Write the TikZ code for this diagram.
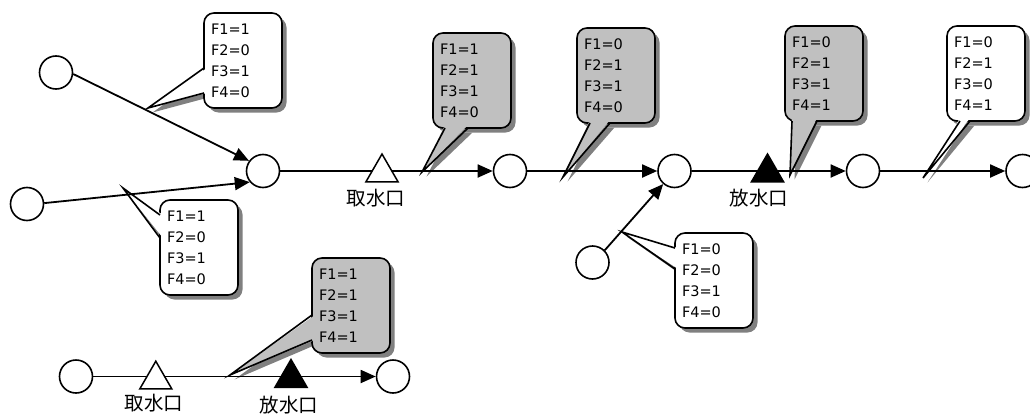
\documentclass[tikz,border=0pt]{standalone}
\usepackage{fontspec}
\setmainfont{DejaVu Sans}
\newfontfamily\jpfont{Noto Sans CJK JP}
\usetikzlibrary{arrows.meta,shapes.geometric,calc}
\pgfdeclarelayer{shadow}
\pgfsetlayers{shadow,main}
\definecolor{callgray}{RGB}{192,192,192}
\definecolor{shadowgray}{RGB}{128,128,128}
\newcommand\callout[8]{%
  \node[callbox, fill=#2] (#1) at #3 {#8};
  \coordinate (#1-tip) at #4;
  \coordinate (#1-a) at #5;
  \coordinate (#1-b) at #6;
  \begin{pgfonlayer}{shadow}
    \fill[shadowgray, rounded corners=10pt] ([shift={(4.5,4.5)}]#1.north west) rectangle ([shift={(4.5,4.5)}]#1.south east);
    \fill[shadowgray] ([shift={(4.5,4.5)}]#1-tip) -- ([shift={(4.5,4.5)}]#1-a) -- ([shift={(4.5,4.5)}]#1-b) -- cycle;
  \end{pgfonlayer}
  \fill[#2] (#1-tip) -- ([shift={#7}]#1-a) -- ([shift={#7}]#1-b) -- cycle;
  \draw[pointer] (#1-a) -- (#1-tip) -- (#1-b);
}
\begin{document}
\begin{tikzpicture}[x=1pt,y=-1pt,
  station/.style={circle, draw, line width=1.6pt, fill=white, minimum size=33pt, inner sep=0pt},
  flow/.style={line width=1.8pt, -{Triangle[length=15pt,width=13pt]}},
  intake/.style={regular polygon, regular polygon sides=3, draw, line width=1.5pt, fill=white, minimum size=37pt, inner sep=0pt},
  outlet/.style={intake, fill=black},
  facility/.style={font=\jpfont\fontsize{19.5}{20}\selectfont, inner sep=0pt},
  callbox/.style={draw, line width=1.6pt, rounded corners=10pt, anchor=north west, outer sep=0pt,
    text width=64pt, inner xsep=7pt, inner ysep=0pt, align=left,
    font=\fontsize{14.5}{20.9}\selectfont, minimum height=95pt},
  pointer/.style={line width=1.6pt},
]
\useasboundingbox (0,0) rectangle (1030,415);

% callouts
\callout{c1}{white}{(204,13)}{(148,108)}{(204,68)}{(204,93)}{(3,0)}{F1=1\\F2=0\\F3=1\\F4=0}
\callout{c2}{white}{(160,200)}{(123,188)}{(160,215)}{(160,238)}{(3,0)}{F1=1\\F2=0\\F3=1\\F4=0}
\callout{c3}{callgray}{(433,33)}{(422,172)}{(445,128)}{(468,128)}{(0,-3)}{F1=1\\F2=1\\F3=1\\F4=0}
\callout{c4}{callgray}{(577,28)}{(563,177)}{(590,123)}{(610,123)}{(0,-3)}{F1=0\\F2=1\\F3=1\\F4=0}
\callout{c5}{callgray}{(785,26)}{(790,175)}{(792,121)}{(817,121)}{(0,-3)}{F1=0\\F2=1\\F3=1\\F4=1}
\callout{c6}{white}{(947,26)}{(923,178)}{(960,121)}{(970,121)}{(0,-3)}{F1=0\\F2=1\\F3=0\\F4=1}
\callout{c7}{white}{(675,233)}{(622,232)}{(675,248)}{(675,269)}{(3,0)}{F1=0\\F2=0\\F3=1\\F4=0}
\callout{c8}{callgray}{(312,258)}{(230,375)}{(312,315)}{(312,340)}{(3,0)}{F1=1\\F2=1\\F3=1\\F4=1}

% stations
\node[station] (A) at (56,72.5) {};
\node[station] (B) at (27,204) {};
\node[station] (C) at (263,171) {};
\node[station] (D) at (510,171) {};
\node[station] (E) at (674.5,171) {};
\node[station] (F) at (863,171) {};
\node[station] (G) at (1022.5,171) {};
\node[station] (H) at (592.5,262.5) {};
\node[station] (I) at (76,376.5) {};
\node[station] (J) at (393,376.5) {};

% flows
\draw[flow] (A.-5) -- (C.144);
\draw[flow] (B.3) -- (C.220);
\draw[flow] (C) -- (D);
\draw[flow] (D) -- (E);
\draw[flow] (E) -- (F);
\draw[flow] (F) -- (G);
\draw[flow] (H.45) -- (E.229);
\draw[flow] (I) -- (J);

% intakes and outlets
\node[intake] (in1) at (382,172.5) {};
\node[outlet] (out1) at (767.5,172.5) {};
\node[intake] (in2) at (155.8,379.7) {};
\node[outlet] (out2) at (291,378) {};

\node[facility] (lab1) at (376,198) {取水口};
\node[facility] (lab2) at (759,198) {放水口};
\node[facility] (lab3) at (154,403) {取水口};
\node[facility] (lab4) at (289,405) {放水口};
\end{tikzpicture}
\end{document}
